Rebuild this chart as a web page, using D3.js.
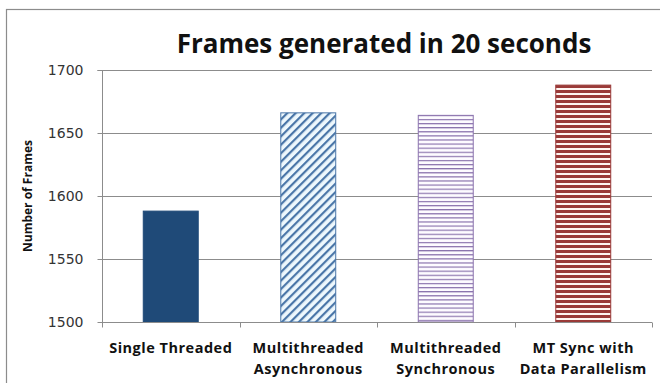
<!DOCTYPE html>
<html><head><meta charset="utf-8">
<script src="https://cdn.jsdelivr.net/npm/d3@7"></script>
<style>body{margin:0;background:#fff}svg{display:block}</style>
</head><body>
<svg id="chart" width="660" height="383"></svg>
<script>
const titleText = "Frames generated in 20 seconds";
const yAxisTitle = "Number of Frames";
const categories = [["Single Threaded"], ["Multithreaded", "Asynchronous"], ["Multithreaded", "Synchronous"], ["MT Sync with", "Data Parallelism"]];
const values = [1588, 1666, 1664, 1688];
const yTicks = [1500, 1550, 1600, 1650, 1700];
const fills = ["solid", "diag", "hlineThin", "hlineThick"];

const svg = d3.select("#chart");
const W = 660, H = 383;
const m = {left: 102, right: 8, top: 70, bottom: 61};

const defs = svg.append("defs");
const pd = defs.append("pattern").attr("id", "diag").attr("patternUnits", "userSpaceOnUse")
  .attr("width", 6).attr("height", 6).attr("patternTransform", "rotate(45)");
pd.append("rect").attr("width", 6).attr("height", 6).attr("fill", "#eef8fd");
pd.append("rect").attr("x", 0).attr("width", 2.2).attr("height", 6).attr("fill", "#4a76a8");
const pt = defs.append("pattern").attr("id", "hlineThin").attr("patternUnits", "userSpaceOnUse")
  .attr("width", 8).attr("height", 4.1);
pt.append("rect").attr("width", 8).attr("height", 4.1).attr("fill", "#fdfbff");
pt.append("rect").attr("y", 0).attr("width", 8).attr("height", 1.2).attr("fill", "#8a72ad");
const pr = defs.append("pattern").attr("id", "hlineThick").attr("patternUnits", "userSpaceOnUse")
  .attr("width", 8).attr("height", 5);
pr.append("rect").attr("width", 8).attr("height", 5).attr("fill", "#fff6f2");
pr.append("rect").attr("y", 0).attr("width", 8).attr("height", 3).attr("fill", "#9a3a38");

svg.append("rect").attr("x", 6.5).attr("y", 9.5).attr("width", 700).attr("height", 400)
  .attr("fill", "none").attr("stroke", "#8c8c8c").attr("stroke-width", 1.2);

const x = d3.scaleBand().domain(d3.range(categories.length))
  .range([m.left, W - m.right]).paddingInner(0.593).paddingOuter(0.2965);
const y = d3.scaleLinear().domain([1500, 1700]).range([H - m.bottom, m.top]);

svg.append("g").selectAll("line").data(yTicks.filter(t => t > 1500)).join("line")
  .attr("x1", m.left).attr("x2", W - m.right)
  .attr("y1", d => Math.round(y(d)) + 0.5).attr("y2", d => Math.round(y(d)) + 0.5)
  .attr("stroke", "#8c8c8c").attr("stroke-width", 1);

const colorStroke = ["#1f4a78", "#4a76a8", "#8a72ad", "#9a3a38"];
svg.append("g").selectAll("rect").data(values).join("rect")
  .attr("x", (d, i) => x(i) + 0.5).attr("width", x.bandwidth() - 1)
  .attr("y", d => y(d)).attr("height", d => y(1500) - y(d))
  .attr("fill", (d, i) => fills[i] === "solid" ? "#1f4a78" : `url(#${fills[i]})`)
  .attr("stroke", (d, i) => colorStroke[i]).attr("stroke-width", 1);

const ya = svg.append("g").attr("transform", `translate(${m.left + 0.5},0)`)
  .call(d3.axisLeft(y).tickValues(yTicks).tickSize(5).tickPadding(14).tickFormat(d3.format("d")));
ya.select(".domain").attr("stroke", "#8c8c8c").attr("d", `M-5,${y(1700)+0.5}H0V${y(1500)}`);
ya.selectAll(".tick line").attr("stroke", "#8c8c8c");
ya.selectAll(".tick text").attr("fill", "#333").style("font-family", "DejaVu Sans, Verdana, sans-serif").style("font-size", "14px");

const xa = svg.append("g").attr("transform", `translate(0,${Math.round(y(1500)) + 0.5})`);
xa.append("line").attr("x1", m.left).attr("x2", W - m.right).attr("stroke", "#8c8c8c");
const step = x.step();
const boundaries = d3.range(categories.length + 1).map(i => m.left + i * step);
xa.selectAll("line.tk").data(boundaries).join("line").attr("class", "tk")
  .attr("x1", d => Math.round(d) + 0.5).attr("x2", d => Math.round(d) + 0.5)
  .attr("y1", 0).attr("y2", 5).attr("stroke", "#8c8c8c");
const lbl = xa.selectAll("text.cat").data(categories).join("text").attr("class", "cat")
  .attr("text-anchor", "middle").attr("fill", "#111")
  .style("font-family", "Open Sans, sans-serif").style("font-weight", "bold").style("font-size", "14.5px")
  .style("letter-spacing", "0.5px");
lbl.each(function(lines, i) {
  const t = d3.select(this);
  lines.forEach((s, j) => {
    t.append("tspan").attr("x", x(i) + x.bandwidth() / 2).attr("y", 30 + j * 21).text(s);
  });
});

svg.append("text").attr("transform", `translate(32,${(y(1500) + y(1700)) / 2}) rotate(-90)`)
  .attr("text-anchor", "middle").attr("fill", "#111")
  .style("font-family", "Open Sans, sans-serif").style("font-weight", "bold").style("font-size", "12px")
  .text(yAxisTitle);

svg.append("text").attr("x", 384).attr("y", 53).attr("text-anchor", "middle").attr("fill", "#111")
  .style("font-family", "Open Sans, sans-serif").style("font-weight", "bold").style("font-size", "26px")
  .text(titleText);
</script>
</body></html>
